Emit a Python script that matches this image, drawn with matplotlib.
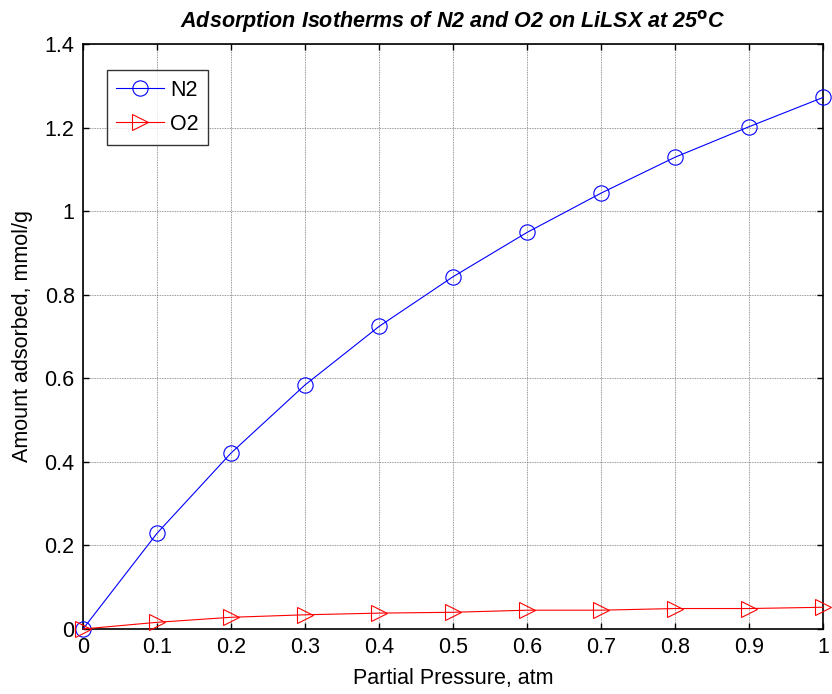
import matplotlib
matplotlib.use("Agg")
import matplotlib.pyplot as plt

pressure = [0.0, 0.1, 0.2, 0.3, 0.4, 0.5, 0.6, 0.7, 0.8, 0.9, 1.0]
n2_uptake = [0.0, 0.229, 0.421, 0.584, 0.724, 0.843, 0.949, 1.043, 1.129, 1.202, 1.272]
o2_uptake = [0.0, 0.016, 0.028, 0.034, 0.038, 0.040, 0.045, 0.045, 0.049, 0.049, 0.052]

x_ticks = [0, 0.1, 0.2, 0.3, 0.4, 0.5, 0.6, 0.7, 0.8, 0.9, 1]
x_labels = ["0", "0.1", "0.2", "0.3", "0.4", "0.5", "0.6", "0.7", "0.8", "0.9", "1"]
y_ticks = [0, 0.2, 0.4, 0.6, 0.8, 1.0, 1.2, 1.4]
y_labels = ["0", "0.2", "0.4", "0.6", "0.8", "1", "1.2", "1.4"]

plt.rcParams["font.family"] = ["Liberation Sans", "DejaVu Sans"]
fs = 15.5

fig = plt.figure(figsize=(8.32, 6.94), dpi=100)
ax = fig.add_axes([83 / 832, 1 - 629 / 694, (823 - 83) / 832, (629 - 44) / 694])

ax.plot(pressure, n2_uptake, color="blue", lw=0.8, marker="o", ms=11,
        mfc="none", mew=0.8, label="N2", clip_on=False, zorder=3)
ax.plot(pressure, o2_uptake, color="red", lw=0.8, marker=">", ms=12,
        mfc="none", mew=0.8, label="O2", clip_on=False, zorder=3)

ax.set_xlim(0, 1)
ax.set_ylim(0, 1.4)
ax.set_xticks(x_ticks)
ax.set_xticklabels(x_labels)
ax.set_yticks(y_ticks)
ax.set_yticklabels(y_labels)
ax.tick_params(direction="in", top=True, right=True, labelsize=fs, length=4,
               width=1, pad=6)
ax.grid(True, color="#777777", linestyle=(0, (1, 1)), linewidth=0.6)
for s in ax.spines.values():
    s.set_linewidth(1.2)

ax.set_xlabel("Partial Pressure, atm", fontsize=fs, labelpad=7)
ax.set_ylabel("Amount adsorbed, mmol/g", fontsize=fs, labelpad=8)
ax.set_title("Adsorption Isotherms of N2 and O2 on LiLSX at 25$^{\\mathbf{o}}$C",
             fontsize=fs, fontweight="bold", style="italic", pad=12)

leg = ax.legend(loc="upper left", bbox_to_anchor=(0.032, 0.955), fontsize=fs,
                frameon=True, fancybox=False, edgecolor="black", handlelength=2.2,
                borderpad=0.45, labelspacing=0.6, handletextpad=0.3,
                borderaxespad=0)
leg.get_frame().set_linewidth(1.0)

fig.savefig("out.png", dpi=100)
